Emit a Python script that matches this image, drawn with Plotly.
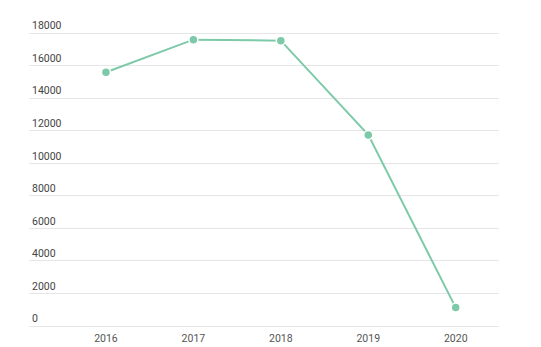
import plotly.graph_objects as go

years = ["2016", "2017", "2018", "2019", "2020"]
values = [15590, 17590, 17530, 11740, 1130]
y_ticks = [0, 2000, 4000, 6000, 8000, 10000, 12000, 14000, 16000, 18000]

line_color = "#7dcaa8"
fig = go.Figure()
fig.add_trace(go.Scatter(
    x=years, y=values, mode="lines+markers",
    line=dict(color=line_color, width=2),
    marker=dict(color=line_color, size=9, line=dict(color="white", width=1.5)),
    cliponaxis=False, hoverinfo="x+y",
))

top_pad = 25 / 293  # fraction of the 0-18000 span left above the top grid line
fig.update_layout(
    width=541, height=347,
    margin=dict(l=29, r=42, t=8, b=21, autoexpand=False),
    paper_bgcolor="white", plot_bgcolor="white",
    showlegend=False,
    font=dict(family="Roboto", size=10.5, color="#555555"),
    xaxis=dict(type="category", range=[-0.88, 4.495], showgrid=False,
               showline=False, zeroline=False, ticks="", ticklabelstandoff=4,
               automargin=False),
    yaxis=dict(range=[0, max(y_ticks) * (1 + top_pad)], tickvals=y_ticks,
               ticktext=[str(v) for v in y_ticks],
               showgrid=True, gridcolor="#e6e6e6", gridwidth=1,
               zeroline=True, zerolinecolor="#e6e6e6", zerolinewidth=1,
               showline=False, ticks="", ticklabelposition="inside top",
               automargin=False),
)

fig.write_html("out.html")
